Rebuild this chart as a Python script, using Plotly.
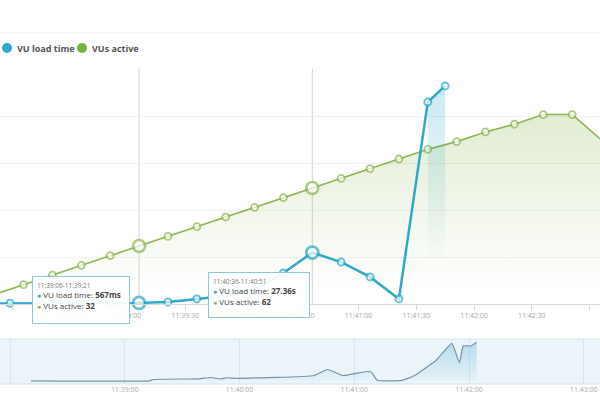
import plotly.graph_objects as go
from datetime import datetime, timedelta

DAY = "2016-03-10"

# ---------------- data ----------------
vu_times = ["11:37:51", "11:38:06", "11:38:21", "11:38:36", "11:38:51", "11:39:06",
            "11:39:21", "11:39:36", "11:39:51", "11:40:06", "11:40:21", "11:40:36",
            "11:40:51", "11:41:06", "11:41:21", "11:41:36", "11:41:51", "11:42:06",
            "11:42:21", "11:42:36", "11:42:51", "11:43:06"]
vu_active = [7, 12, 17, 22, 27, 32, 37, 42, 47, 52, 57, 62,
             67, 72, 77, 82, 86, 91, 95, 100, 100, 87]

lt_times = ["11:37:44", "11:37:59", "11:38:21", "11:38:36", "11:38:51", "11:39:06",
            "11:39:21", "11:39:36", "11:39:51", "11:40:06", "11:40:21", "11:40:36",
            "11:40:51", "11:41:06", "11:41:21", "11:41:36", "11:41:45"]
lt_seconds = [0.3, 0.4, 0.45, 0.5, 0.55, 0.567, 1.1, 2.7, 4.3, 7.4, 16.5, 27.36,
              22.3, 14.4, 2.7, 107.4, 116.0]

nav_times = ["11:38:11", "11:39:13", "11:39:15", "11:39:39", "11:39:45", "11:39:50",
             "11:39:53", "11:39:59", "11:40:39", "11:40:46", "11:40:54", "11:41:07",
             "11:41:09", "11:41:12", "11:41:25", "11:41:31", "11:41:43", "11:41:51",
             "11:41:55", "11:41:57", "11:42:01", "11:42:04"]
nav_seconds = [0.5, 0.5, 4.5, 6.7, 10.7, 6.1, 9.8, 8.2, 16.8, 35, 16.8, 29,
               27, 2, 2, 15, 64, 115, 56, 107, 107, 118]

hover_times = ["11:39:06", "11:40:36"]
interval_seconds = 15

series_names = ["VU load time", "VUs active"]

# ---------------- helpers ----------------
BLUE = "#2fa8cb"
GREEN = "#8fb653"
FONT = "Open Sans"
W, H = 600, 400


def dt(t):
    return datetime.strptime(f"{DAY} {t}", "%Y-%m-%d %H:%M:%S")


def px(p):
    return p / W


def py(p):
    return 1 - p / H


def fmt_lt(v):
    return f"{round(v * 1000)}ms" if v < 1 else f"{v:.2f}s"


lt_x = [dt(t) for t in lt_times]
vu_x = [dt(t) for t in vu_times]
nav_x = [dt(t) for t in nav_times]

# axis ranges (pixel calibration)
main_pps = 1.925
main_t0 = dt("11:39:00") - timedelta(seconds=127.5 / main_pps)
main_t1 = main_t0 + timedelta(seconds=W / main_pps)
nav_pps = 1.9125
nav_t0 = dt("11:38:00") - timedelta(seconds=10 / nav_pps)
nav_t1 = nav_t0 + timedelta(seconds=W / nav_pps)

plot_top, plot_bot = 69, 304
vu_lo, vu_hi = 2.0, 123.57
lt_lo, lt_hi = 0, 125

fig = go.Figure()

# green VUs active (primary y)
fig.add_trace(go.Scatter(
    x=vu_x, y=vu_active, name=series_names[1], xaxis="x", yaxis="y",
    mode="lines+markers",
    line=dict(color=GREEN, width=1.6),
    fill="tozeroy",
    fillgradient=dict(type="vertical", start=10, stop=100,
                      colorscale=[[0, "rgba(143,182,83,0)"],
                                  [1, "rgba(143,182,83,0.26)"]]),
    marker=dict(symbol="circle", color="white",
                size=[12 if t in hover_times else 7 for t in vu_times],
                line=dict(color=GREEN, width=[2.6 if t in hover_times else 1.8 for t in vu_times])),
    cliponaxis=False, hoverinfo="skip"))

# blue band under last, running interval
fig.add_trace(go.Scatter(
    x=lt_x[-2:], y=lt_seconds[-2:], xaxis="x", yaxis="y2", mode="lines",
    line=dict(width=0), fill="tozeroy",
    fillgradient=dict(type="vertical", start=20, stop=116,
                      colorscale=[[0, "rgba(47,168,203,0)"],
                                  [1, "rgba(47,168,203,0.25)"]]),
    hoverinfo="skip", showlegend=False))

# blue VU load time (overlay y2)
fig.add_trace(go.Scatter(
    x=lt_x, y=lt_seconds, name=series_names[0], xaxis="x", yaxis="y2",
    mode="lines+markers",
    line=dict(color=BLUE, width=2.5),
    marker=dict(symbol="circle", color="white",
                size=[12 if t in hover_times else 7 for t in lt_times],
                line=dict(color=BLUE, width=[2.8 if t in hover_times else 2 for t in lt_times])),
    cliponaxis=False, hoverinfo="skip"))

# navigator
fig.add_trace(go.Scatter(
    x=nav_x, y=nav_seconds, xaxis="x2", yaxis="y3", mode="lines",
    line=dict(color="#7b93a3", width=1.2, shape="spline", smoothing=0.4),
    fill="tozeroy",
    fillgradient=dict(type="vertical", start=0, stop=118,
                      colorscale=[[0, "rgba(72,170,215,0.03)"],
                                  [1, "rgba(72,170,215,0.32)"]]),
    hoverinfo="skip"))

shapes = []
# header separator
shapes.append(dict(type="line", xref="paper", yref="paper", x0=0, x1=1,
                   y0=py(33), y1=py(33), line=dict(color="#ececec", width=1)))
# hover crosshair lines
for t in hover_times:
    shapes.append(dict(type="line", xref="x", yref="y domain", x0=dt(t), x1=dt(t),
                       y0=0, y1=1, line=dict(color="#d2d2d2", width=1), layer="below"))
# navigator panel
shapes.append(dict(type="rect", xref="x2 domain", yref="y3 domain", x0=0, x1=1, y0=0, y1=1,
                   fillcolor="#eaf4f9", line=dict(width=0), layer="below"))
for yy in (0, 1):
    shapes.append(dict(type="line", xref="x2 domain", yref="y3 domain", x0=0, x1=1,
                       y0=yy, y1=yy, line=dict(color="#d3e4ee", width=1)))
# legend symbols
legend_dots = [(7, BLUE), (82, "#74b43c")]
for cx, col in legend_dots:
    shapes.append(dict(type="circle", xref="paper", yref="paper",
                       x0=px(cx - 5), x1=px(cx + 5), y0=py(53), y1=py(43),
                       fillcolor=col, line=dict(width=0)))

annotations = [
    dict(text=f"<b>{series_names[0]}</b>", xref="paper", yref="paper", x=px(15), y=py(48),
         xanchor="left", yanchor="middle", showarrow=False,
         font=dict(family=FONT, size=9, color="#555")),
    dict(text=f"<b>{series_names[1]}</b>", xref="paper", yref="paper", x=px(90), y=py(48),
         xanchor="left", yanchor="middle", showarrow=False,
         font=dict(family=FONT, size=9, color="#555")),
]

tooltip_boxes = [(32, 276, 88, 38), (208, 272, 92, 36)]
for t, (bx, by, bw, bh) in zip(hover_times, tooltip_boxes):
    start = dt(t)
    end = start + timedelta(seconds=interval_seconds)
    v_lt = lt_seconds[lt_times.index(t)]
    v_vu = vu_active[vu_times.index(t)]
    txt = (f'<span style="font-size:6.5px;color:#777">{start:%H:%M:%S}-{end:%H:%M:%S}</span><br>'
           f'<span style="color:{BLUE};font-size:7px">●</span> {series_names[0]}: <b>{fmt_lt(v_lt)}</b><br>'
           f'<span style="color:{GREEN};font-size:7px">●</span> {series_names[1]}: <b>{v_vu}</b>')
    annotations.append(dict(text=txt, xref="paper", yref="paper", x=px(bx), y=py(by),
                            xanchor="left", yanchor="top", showarrow=False, align="left",
                            width=bw, height=bh, valign="top",
                            bgcolor="rgba(255,255,255,0.92)", bordercolor="#8ec5d9",
                            borderwidth=1, borderpad=4,
                            font=dict(family=FONT, size=8, color="#444")))

tickfont = dict(family=FONT, size=7, color="#a8a8a8")

fig.update_layout(
    width=W, height=H, margin=dict(l=0, r=0, t=0, b=0),
    paper_bgcolor="white", plot_bgcolor="rgba(0,0,0,0)", showlegend=False,
    xaxis=dict(domain=[0, 1], anchor="y", range=[main_t0, main_t1], type="date",
               tick0=dt("11:38:00"), dtick=30000, tickformat="%H:%M:%S",
               showgrid=False, zeroline=False, showline=True, linecolor="#d8d8d8",
               ticks="outside", ticklen=5, tickcolor="#d8d8d8", tickfont=tickfont),
    yaxis=dict(domain=[py(plot_bot), py(plot_top)], anchor="x", range=[vu_lo, vu_hi],
               tick0=vu_lo, dtick=(vu_hi - vu_lo) / 5, showgrid=True, gridcolor="#f1f1f1",
               showticklabels=False, zeroline=False, ticks=""),
    yaxis2=dict(overlaying="y", anchor="x", side="right", range=[lt_lo, lt_hi],
                showgrid=False, showticklabels=False, zeroline=False, ticks=""),
    xaxis2=dict(domain=[0, 1], anchor="y3", range=[nav_t0, nav_t1], type="date",
                tick0=dt("11:38:00"), dtick=60000, tickformat="%H:%M:%S",
                showgrid=True, gridcolor="#d6e6ef", zeroline=False, showline=False,
                ticks="", tickfont=tickfont),
    yaxis3=dict(domain=[py(384), py(339)], anchor="x2", range=[-9.2, 128.2],
                showgrid=False, showticklabels=False, zeroline=False, ticks=""),
    shapes=shapes, annotations=annotations,
)

fig.write_html("out.html")
